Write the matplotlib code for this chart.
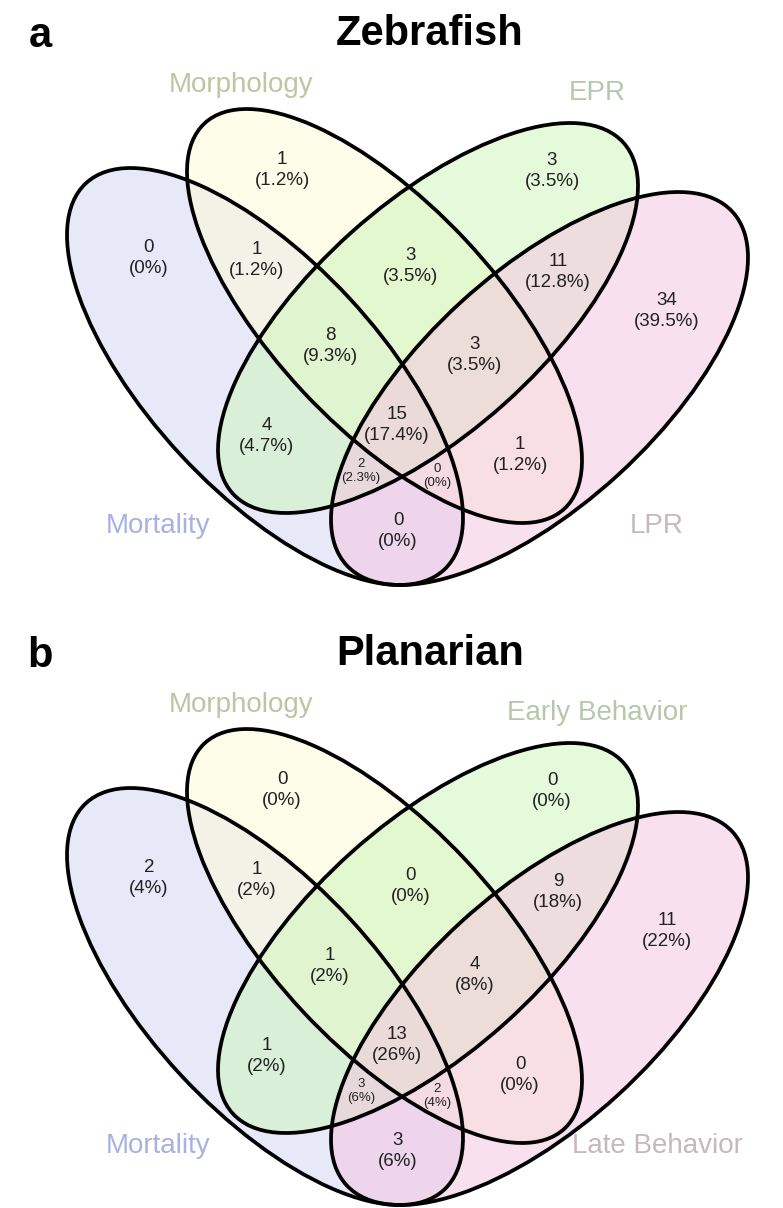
import numpy as np
import matplotlib.pyplot as plt
from matplotlib.patches import Ellipse

plt.rcParams['font.family'] = ['Liberation Sans', 'DejaVu Sans']

# region order: A, B, C, D, AB, BC, CD, ABC, BCD, AC, BD, ABCD, ACD, ABD, AD
# A = Mortality, B = Morphology, C = early behaviour, D = late behaviour
region_names = ["A", "B", "C", "D", "AB", "BC", "CD", "ABC", "BCD",
                "AC", "BD", "ABCD", "ACD", "ABD", "AD"]

zebrafish_counts = [0, 1, 3, 34, 1, 3, 11, 8, 3, 4, 1, 15, 2, 0, 0]
zebrafish_pct = ["0%", "1.2%", "3.5%", "39.5%", "1.2%", "3.5%", "12.8%", "9.3%",
                 "3.5%", "4.7%", "1.2%", "17.4%", "2.3%", "0%", "0%"]
zebrafish_sets = ["Mortality", "Morphology", "EPR", "LPR"]

planarian_counts = [2, 0, 0, 11, 1, 0, 9, 1, 4, 1, 0, 13, 3, 2, 3]
planarian_pct = ["4%", "0%", "0%", "22%", "2%", "0%", "18%", "2%",
                 "8%", "2%", "0%", "26%", "6%", "4%", "6%"]
planarian_sets = ["Mortality", "Morphology", "Early Behavior", "Late Behavior"]

# ellipse shapes: centre x, centre y, half width, half height, xy term
shapes = [
    (265.0, 376.5, 198.0, 208.5, 28000.0),
    (384.5, 316.0, 197.5, 207.0, 28500.0),
    (428.0, 318.0, 210.0, 195.0, -27700.0),
    (539.5, 388.5, 208.5, 196.5, -27300.0),
]
fills = ["#d1d5f5", "#fdfdd5", "#cdf5b9", "#f5c3e1"]
cat_colors = ["#a9b1e2", "#bfc4a2", "#b7c7a9", "#c6b8bd"]
cat_pos = [(158, 526), (241, 85), (597, 93), (657, 526)]

# where each region's count is written
label_pos = {
    "A": (149, 258), "B": (282, 170), "C": (552, 171), "D": (667, 311),
    "AB": (257, 260), "BC": (411, 266), "CD": (558, 272), "ABC": (330, 346),
    "BCD": (475, 355), "AC": (267, 436), "BD": (520, 455), "ABCD": (397, 425),
    "ACD": (361, 471), "ABD": (437, 476), "AD": (398, 531),
}
small_regions = {"ACD", "ABD"}


def ellipse_patch(cx, cy, wx, wy, sxy, dy, **kw):
    vals, vecs = np.linalg.eigh(np.array([[wx ** 2, sxy], [sxy, wy ** 2]]))
    angle = np.degrees(np.arctan2(vecs[1, 1], vecs[0, 1]))
    return Ellipse((cx, cy + dy), 2 * np.sqrt(vals[1]), 2 * np.sqrt(vals[0]),
                   angle=angle, **kw)


def draw_venn(ax, dy, letter, title, sets, counts, pct):
    for s, c in zip(shapes, fills):
        ax.add_patch(ellipse_patch(*s, dy, facecolor=c, alpha=0.5, lw=0))
    for s in shapes:
        ax.add_patch(ellipse_patch(*s, dy, facecolor="none", edgecolor="black", lw=2.7))
    for name, n, p in zip(region_names, counts, pct):
        x, y = label_pos[name]
        fs = 9.5 if name in small_regions else 13.5
        ax.text(x, y + dy, "{}\n({})".format(n, p), ha="center", va="center",
                fontsize=fs, color="#222222", linespacing=1.3)
    for s, (x, y), c in zip(sets, cat_pos, cat_colors):
        ax.text(x, y + dy, s, ha="center", va="center", fontsize=20, color=c)
    ax.text(40, 36 + dy, letter, ha="center", va="center", fontsize=30, fontweight="bold")
    ax.text(430, 34 + dy, title, ha="center", va="center", fontsize=30, fontweight="bold")


fig = plt.figure(figsize=(7.83, 12.08), dpi=100)
ax = fig.add_axes([0, 0, 1, 1])
ax.set_xlim(0, 783)
ax.set_ylim(1208, 0)
ax.axis("off")

draw_venn(ax, 0, "a", "Zebrafish", zebrafish_sets, zebrafish_counts, zebrafish_pct)
draw_venn(ax, 620, "b", "Planarian", planarian_sets, planarian_counts, planarian_pct)

fig.savefig("out.png", dpi=100)
